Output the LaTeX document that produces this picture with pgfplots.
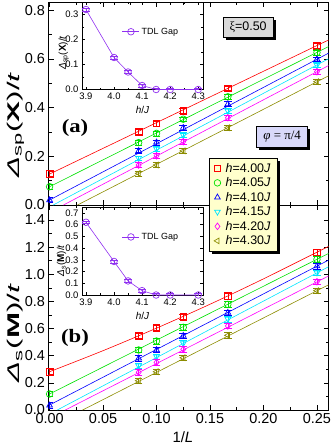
\documentclass[border=0pt]{standalone}
\usepackage{fontspec}
\setmainfont{Liberation Sans}
\newfontfamily\tnr{Liberation Serif}
\usepackage{graphicx}
\usepackage{pgfplots}
\pgfplotsset{compat=1.18}
\usetikzlibrary{shadows}

\definecolor{cRed}{HTML}{FF0000}
\definecolor{cGreen}{HTML}{00E000}
\definecolor{cBlue}{HTML}{0000FF}
\definecolor{cCyan}{HTML}{00E5FF}
\definecolor{cMag}{HTML}{FF00FF}
\definecolor{cOlive}{HTML}{8C8C00}
\definecolor{cViolet}{HTML}{9030F0}
\definecolor{boxGray}{HTML}{D9D9D9}
\definecolor{boxLav}{HTML}{D8D8FA}
\definecolor{legYel}{HTML}{FFFFCC}

\newcommand{\ylab}[1]{\scalebox{1.85}[1]{#1}}

\pgfplotsset{
  mainax/.style={scale only axis, width=280bp, xmin=-0.001, xmax=0.2608,
    xtick={0,0.05,0.10,0.15,0.20,0.25}, minor x tick num=1, minor y tick num=1,
    tick align=inside, major tick length=5bp, minor tick length=3bp,
    tick style={black, line width=0.5pt}, axis line style={line width=0.6pt},
    tick label style={font=\fontsize{14.5}{16}\selectfont},
    /pgf/number format/assume math mode=true,
    yticklabel style={/pgf/number format/fixed, /pgf/number format/fixed zerofill, /pgf/number format/precision=1},
    xticklabel style={/pgf/number format/fixed, /pgf/number format/fixed zerofill, /pgf/number format/precision=2},
    ylabel style={font=\fontsize{17}{19}\selectfont},
  },
  insetax/.style={scale only axis, width=121bp, xmin=3.886, xmax=4.317,
    xtick={3.9,4.0,4.1,4.2,4.3}, minor x tick num=1, minor y tick num=1,
    tick align=inside, major tick length=3bp, minor tick length=2bp,
    tick style={black, line width=0.4pt}, axis line style={line width=0.5pt},
    tick label style={font=\fontsize{9.5}{11}\selectfont},
    /pgf/number format/assume math mode=true,
    yticklabel style={/pgf/number format/fixed, /pgf/number format/fixed zerofill, /pgf/number format/precision=1},
    xticklabel style={/pgf/number format/fixed, /pgf/number format/fixed zerofill, /pgf/number format/precision=1},
    label style={font=\fontsize{10}{12}\selectfont},
    xlabel={\textit{h}/\textit{J}},
    legend style={draw=none, fill=none, anchor=west, font=\fontsize{9}{11}\selectfont, inner sep=0pt},
  },
  mk/.style={only marks, mark size=3.3bp,
    legend image code/.code={\draw[mark repeat=2, mark phase=2, only marks] plot coordinates {(0bp,0bp) (12bp,0bp) (24bp,0bp)};},
    error bars/.cd, y dir=both, y fixed=#1,
    error mark options={rotate=90, mark size=3.8bp, line width=0.5pt}},
  ln/.style={line width=0.6pt, forget plot},
  sRed/.style={color=cRed, mark=square, mark options={line width=0.7pt}},
  sGreen/.style={color=cGreen, mark=o, mark options={line width=0.7pt}},
  sBlue/.style={color=cBlue, mark=triangle, mark options={line width=0.7pt}},
  sCyan/.style={color=cCyan, mark=triangle, mark options={rotate=180, line width=0.7pt}},
  sMag/.style={color=cMag, mark=diamond, mark options={line width=0.7pt}},
  sOli/.style={color=cOlive, mark=triangle, mark options={rotate=90, line width=0.7pt}},
  gap/.style={color=cViolet, line width=0.6pt, mark=o, mark size=3.3bp, mark options={line width=0.7pt},
    error bars/.cd, y dir=both, y fixed=#1, error mark options={rotate=90, mark size=3.8bp, line width=0.5pt}},
}

\begin{document}
\begin{tikzpicture}

% (b) M point, drawn first so the upper panel's legend lies on top
\begin{axis}[mainax, at={(48.5bp,-410bp)}, anchor=south west, height=205bp,
  ymin=0, ymax=1.51, ytick={0,0.2,0.4,0.6,0.8,1.0,1.2,1.4},
  xlabel={1/\textit{L}},
  xlabel style={font=\fontsize{15}{17}\selectfont, at={(axis description cs:0.48,0)}, yshift=-21bp, anchor=north, inner sep=0pt},
  ylabel={\ylab{\textit{Δ}\textsubscript{s}(\textbf{M})/\textit{t}}},
  ylabel style={at={(axis description cs:-0.118,0.376)}, anchor=center}]
\addplot[ln, cRed, smooth] coordinates {(0,0.282) (0.05,0.437) (0.1,0.603) (0.15,0.779) (0.2,0.966) (0.2608,1.205)};
\addplot[ln, cGreen] coordinates {(0,0.118) (0.2608,1.153)};
\addplot[ln, cBlue] coordinates {(0,0.037) (0.2608,1.104)};
\addplot[ln, cCyan] coordinates {(0.0072,0) (0.2608,1.055)};
\addplot[ln, cMag] coordinates {(0.0147,0) (0.2608,0.987)};
\addplot[ln, cOlive] coordinates {(0.0309,0) (0.2608,0.922)};
\addplot[sRed, mk=0.02] coordinates {(0,0.282) (0.0833,0.547) (0.1,0.606) (0.125,0.687) (0.1667,0.839) (0.25,1.161)};
\addplot[sGreen, mk=0.02] coordinates {(0,0.118) (0.0833,0.442) (0.1,0.508) (0.125,0.609) (0.1667,0.778) (0.25,1.110)};
\addplot[sBlue, mk=0.02] coordinates {(0,0.034) (0.0833,0.381) (0.1,0.442) (0.125,0.547) (0.1667,0.717) (0.25,1.060)};
\addplot[sCyan, mk=0.02] coordinates {(0.0833,0.326) (0.1,0.393) (0.125,0.491) (0.1667,0.670) (0.25,1.011)};
\addplot[sMag, mk=0.02] coordinates {(0.0833,0.278) (0.1,0.351) (0.125,0.447) (0.1667,0.619) (0.25,0.945)};
\addplot[sOli, mk=0.02] coordinates {(0.0833,0.216) (0.1,0.282) (0.125,0.385) (0.1667,0.550) (0.25,0.879)};
\node[font=\tnr\bfseries\fontsize{19}{21}\selectfont] at (axis cs:0.0238,0.53) {\scalebox{1.2}[1]{(b)}};
\end{axis}

% inset (b)
\begin{axis}[insetax, at={(82bp,-295bp)}, anchor=south west, height=88bp,
  ymin=0, ymax=0.75, ytick={0,0.1,0.2,0.3,0.4,0.5,0.6,0.7}, minor y tick num=0,
  ylabel={\textit{Δ}\textsubscript{s}(\textbf{M})/\textit{t}},
  ylabel style={at={(axis description cs:-0.17,0.39)}, anchor=center},
  legend style={at={(0.33,0.66)}}]
\addplot[gap=0.012] coordinates {(3.9,0.620) (4.0,0.286) (4.05,0.120) (4.1,0.037) (4.15,0) (4.2,0) (4.3,0)};
\addlegendentry{TDL Gap}
\end{axis}

% (a) X point
\begin{axis}[mainax, at={(48.5bp,-205bp)}, anchor=south west, height=203bp,
  ymin=0, ymax=0.833, ytick={0,0.2,0.4,0.6,0.8}, xticklabel=\empty,
  ylabel={\ylab{\textit{Δ}\textsubscript{sp}(\textbf{X})/\textit{t}}},
  ylabel style={at={(axis description cs:-0.118,0.394)}, anchor=center},
  legend style={at={(0.573,0.232)}, anchor=north west, fill=legYel, draw=black,
    font=\fontsize{12.5}{14}\selectfont, inner xsep=5bp, inner ysep=3bp,
    /tikz/every odd column/.append style={column sep=3bp},
    drop shadow={opacity=1, fill=black, shadow xshift=3bp, shadow yshift=-3bp}},
  legend cell align=left]
\addplot[ln, cRed] coordinates {(0,0.127) (0.2608,0.677)};
\addplot[ln, cGreen] coordinates {(0,0.075) (0.2608,0.650)};
\addplot[ln, cBlue] coordinates {(0,0.0205) (0.2608,0.623)};
\addplot[ln, cCyan] coordinates {(0.0034,0) (0.2608,0.600)};
\addplot[ln, cMag] coordinates {(0.013,0) (0.2608,0.572)};
\addplot[ln, cOlive] coordinates {(0.0261,0) (0.2608,0.530)};
\addplot[sRed, mk=0.01] coordinates {(0,0.127) (0.0833,0.301) (0.1,0.335) (0.125,0.387) (0.1667,0.479) (0.25,0.654)};
\addlegendentry{\textit{h}=4.00\textit{J}}
\addplot[sGreen, mk=0.01] coordinates {(0,0.075) (0.0833,0.256) (0.1,0.294) (0.125,0.352) (0.1667,0.444) (0.25,0.626)};
\addlegendentry{\textit{h}=4.05\textit{J}}
\addplot[sBlue, mk=0.01] coordinates {(0,0.0205) (0.0833,0.222) (0.1,0.257) (0.125,0.317) (0.1667,0.414) (0.25,0.598)};
\addlegendentry{\textit{h}=4.10\textit{J}}
\addplot[sCyan, mk=0.01] coordinates {(0.0833,0.192) (0.1,0.230) (0.125,0.287) (0.1667,0.386) (0.25,0.574)};
\addlegendentry{\textit{h}=4.15\textit{J}}
\addplot[sMag, mk=0.01] coordinates {(0.0833,0.164) (0.1,0.202) (0.125,0.260) (0.1667,0.358) (0.25,0.547)};
\addlegendentry{\textit{h}=4.20\textit{J}}
\addplot[sOli, mk=0.01] coordinates {(0.0833,0.130) (0.1,0.164) (0.125,0.222) (0.1667,0.317) (0.25,0.506)};
\addlegendentry{\textit{h}=4.30\textit{J}}
\node[font=\tnr\bfseries\fontsize{19}{21}\selectfont] at (axis cs:0.0238,0.316) {\scalebox{1.2}[1]{(a)}};
\node[draw=black, fill=boxGray, minimum width=50bp, minimum height=20bp, inner sep=1bp,
  drop shadow={opacity=1, fill=black, shadow xshift=2.5bp, shadow yshift=-2.5bp},
  font=\fontsize{12.5}{14}\selectfont] at (axis cs:0.1856,0.730) {{\tnr ξ}=0.50};
\node[draw=black, fill=boxLav, minimum width=51bp, minimum height=21bp, inner sep=1bp,
  drop shadow={opacity=1, fill=black, shadow xshift=2.5bp, shadow yshift=-2.5bp},
  font=\tnr\fontsize{13}{15}\selectfont] at (axis cs:0.2175,0.281) {\textit{φ} = π/4};
\end{axis}

% inset (a)
\begin{axis}[insetax, at={(82bp,-89.5bp)}, anchor=south west, height=87.5bp,
  ymin=0, ymax=0.35, ytick={0,0.1,0.2,0.3},
  ylabel={\textit{Δ}\textsubscript{sp}(\textbf{X})/\textit{t}},
  ylabel style={at={(axis description cs:-0.15,0.42)}, anchor=center},
  legend style={at={(0.33,0.66)}}]
\addplot[gap=0.006] coordinates {(3.9,0.320) (4.0,0.128) (4.05,0.070) (4.1,0.016) (4.15,0) (4.2,0) (4.3,0)};
\addlegendentry{TDL Gap}
\end{axis}

\pgfresetboundingbox
\useasboundingbox (0,0) rectangle (332bp,-447bp);
\end{tikzpicture}
\end{document}
